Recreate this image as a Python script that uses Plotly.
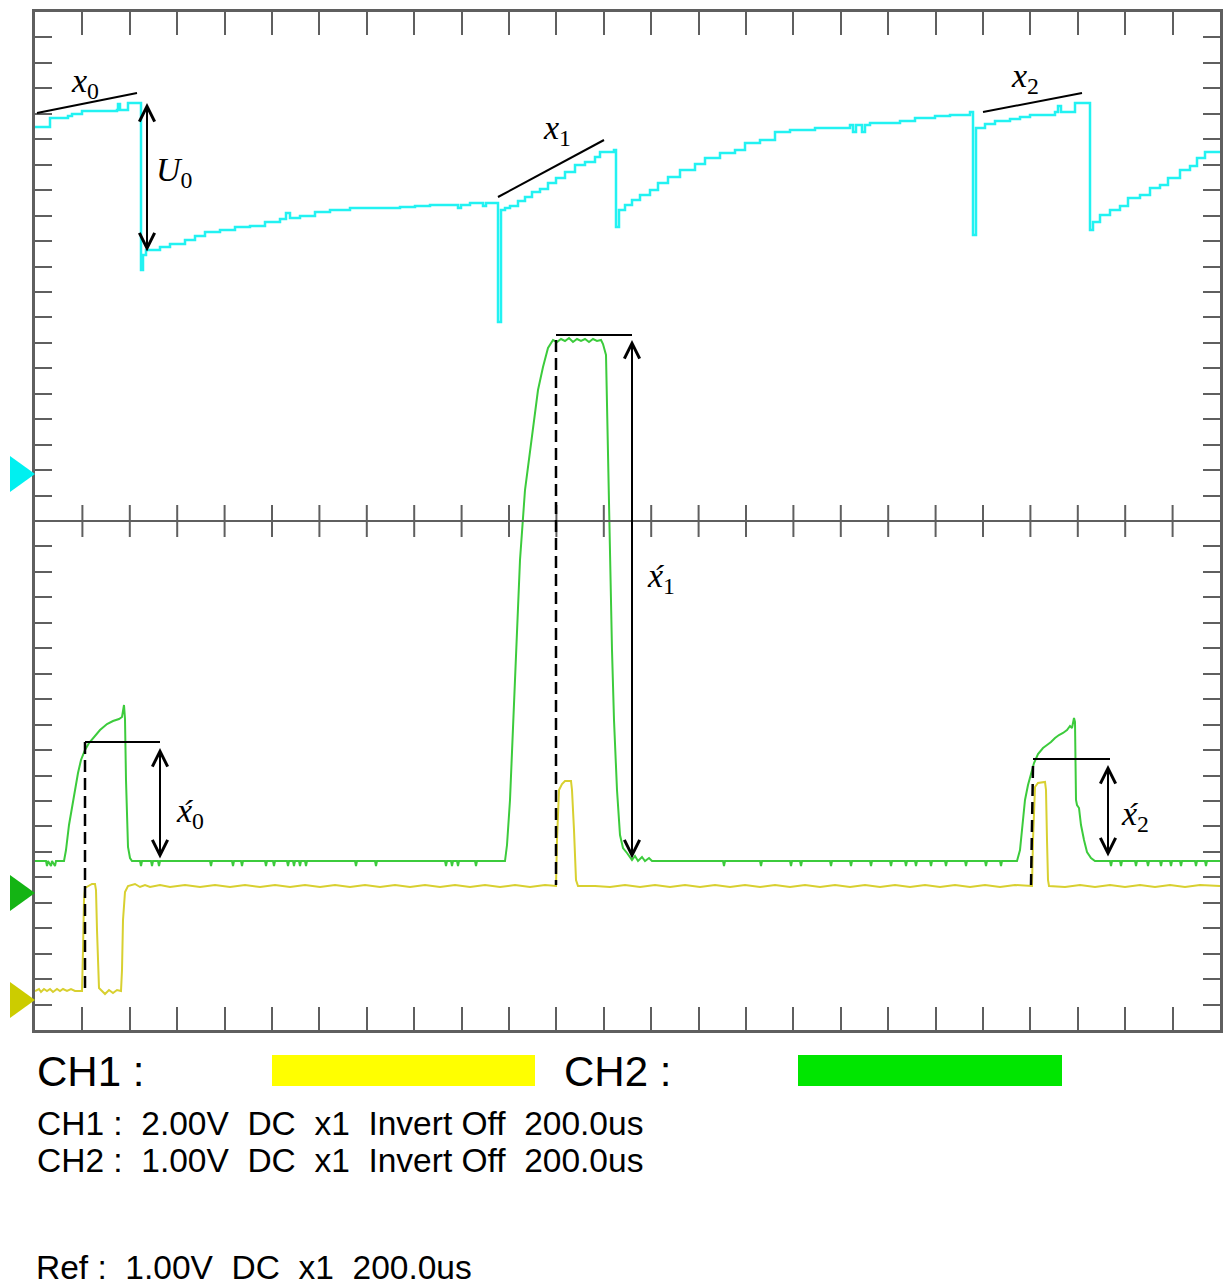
import plotly.graph_objects as go

# ---------------- data (x: sample index, 47.4 samples/div; y: level, 25.45 levels/minor div) ----
ref_t = [0, 15, 33, 37, 47, 82, 83, 85, 93, 105, 106, 108, 111, 125, 135, 150, 160, 170, 185, 200,
         215, 230, 245, 251, 255, 265, 280, 295, 315, 365, 380, 395, 420, 423, 426, 435, 445, 448,
         451, 460, 463, 466, 470, 475, 483, 490, 497, 505, 513, 521, 530, 540, 550, 560, 565, 579,
         581, 584, 590, 597, 605, 615, 623, 633, 645, 660, 670, 685, 700, 710, 725, 740, 755, 780,
         815, 818, 821, 827, 830, 835, 865, 880, 900, 915, 935, 938, 941, 950, 960, 975, 985, 995,
         1020, 1023, 1026, 1040, 1053, 1055, 1058, 1065, 1075, 1085, 1093, 1105, 1115, 1125, 1133,
         1145, 1155, 1162, 1170, 1185]
ref_v = [903, 912, 914, 916, 919, 920, 926, 920, 927, 927, 760, 775, 780, 783, 786, 790, 794, 798, 800, 803,
         804, 808, 811, 817, 812, 814, 818, 820, 822, 823, 824, 825, 825, 822, 825, 827, 827, 824,
         827, 827, 708, 820, 822, 824, 829, 833, 838, 841, 847, 852, 858, 865, 868, 873, 878, 880,
         803, 820, 825, 830, 835, 840, 847, 853, 860, 866, 872, 877, 880, 887, 890, 898, 900, 902,
         905, 898, 905, 898, 905, 907, 909, 912, 914, 915, 918, 795, 902, 906, 909, 911, 913, 915,
         918, 924, 918, 927, 927, 800, 808, 815, 820, 824, 832, 835, 842, 845, 852,
         860, 864, 872, 878, 878]

ch2_t = [0, 11, 12, 13, 16, 17, 20, 21,
         29, 31, 34, 37, 40, 43, 46, 50, 54, 58, 65, 72, 78, 84, 87, 89, 90, 91, 92, 93, 95, 97,
         105, 106, 107, 116, 117, 118, 123, 124, 125,
         175, 176, 177, 197, 198, 199, 206, 207, 208,
         230, 231, 232, 238, 239, 240, 252, 253, 254,
         258, 259, 260, 264, 265, 266, 270, 271, 272,
         320, 321, 322, 340, 341, 342,
         410, 411, 412, 416, 417, 418, 422, 423, 424, 440, 441, 442,
         470, 472, 475, 479, 485, 490, 495, 503, 508, 513, 518, 522, 526, 530, 534, 538, 542, 546,
         550, 554, 558, 562, 566, 568, 571, 573, 575, 577, 579, 582, 585, 588, 592, 595, 597, 600,
         603, 607, 610, 614, 617,
         688, 689, 690, 725, 726, 727, 755, 756, 757, 765, 766, 767,
         795, 796, 797, 815, 816, 817, 835, 836, 837, 855, 856, 857, 870, 871, 872,
         880, 881, 882, 895, 896, 897, 910, 911, 912, 930, 931, 932, 950, 951, 952, 965, 966, 967,
         982, 985, 988, 990, 993, 996, 999, 1003, 1008, 1012, 1016, 1020, 1024, 1028, 1032, 1035,
         1037, 1039, 1040, 1041, 1042, 1044, 1046, 1049, 1052, 1056, 1060,
         1075, 1076, 1077, 1085, 1086, 1087, 1100, 1101, 1102, 1112, 1113, 1114, 1125, 1126, 1127,
         1135, 1136, 1137, 1145, 1146, 1147, 1160, 1161, 1162, 1170, 1171, 1172, 1180, 1185]
ch2_v = [169, 169, 164, 169, 164, 169, 164, 169,
         169, 180, 205, 223, 240, 257, 270, 280, 287, 292, 300, 306, 309, 311, 313, 325, 311, 250, 200, 183, 172, 169,
         169, 164, 169, 169, 164, 169, 169, 164, 169,
         169, 164, 169, 169, 164, 169, 169, 164, 169,
         169, 164, 169, 169, 164, 169, 169, 164, 169,
         169, 164, 169, 169, 164, 169, 169, 164, 169,
         169, 164, 169, 169, 164, 169,
         169, 164, 169, 169, 164, 169, 169, 164, 169, 169, 164, 169,
         169, 185, 230, 330, 470, 540, 580, 640, 663, 682, 690, 688, 691, 689, 692, 688, 691, 689,
         691, 688, 691, 689, 690, 686, 675, 563, 470, 380, 310, 240, 195, 182, 177, 172, 170, 174,
         169, 173, 169, 172, 169,
         169, 164, 169, 169, 164, 169, 169, 164, 169, 169, 164, 169,
         169, 164, 169, 169, 164, 169, 169, 164, 169, 169, 164, 169, 169, 164, 169,
         169, 164, 169, 169, 164, 169, 169, 164, 169, 169, 164, 169, 169, 164, 169, 169, 164, 169,
         169, 180, 210, 230, 245, 257, 267, 276, 282, 285, 288, 292, 295, 297, 300, 304,
         302, 312, 308, 230, 225, 222, 205, 190, 178, 172, 169,
         169, 164, 169, 169, 164, 169, 169, 164, 169, 169, 164, 169, 169, 164, 169,
         169, 164, 169, 169, 164, 169, 169, 164, 169, 169, 164, 169, 169, 169]

ch1_t = [0, 4, 6, 9, 12, 15, 18, 22, 25, 28, 32, 36, 40, 47, 48, 49, 50, 53, 57, 60, 61, 62, 63, 64,
         67, 70, 74, 78, 82, 86, 87, 88, 90, 93, 100, 105, 110, 115, 125, 135, 150, 165, 180, 195,
         210, 225, 240, 255, 270, 285, 300, 315, 330, 345, 360, 375, 390, 405, 420, 435, 450, 465,
         480, 495, 510, 521, 522, 524, 527, 530, 536, 537, 539, 541, 543, 560, 575, 590, 605, 620,
         635, 650, 665, 680, 695, 710, 725, 740, 755, 770, 785, 800, 815, 830, 845, 860, 875, 890,
         905, 920, 935, 950, 965, 980, 997, 998, 1000, 1003, 1010, 1011, 1012, 1013, 1014, 1030,
         1045, 1060, 1075, 1090, 1105, 1120, 1135, 1150, 1165, 1185]
ch1_v = [39, 41, 38, 41, 39, 41, 38, 41, 39, 41, 39, 41, 39, 39, 80, 130, 142, 144, 146, 146, 140, 100, 60, 42,
         39, 36, 40, 37, 40, 39, 60, 110, 138, 144, 146, 143, 145, 143, 145, 143, 145, 143, 145, 143,
         145, 143, 145, 143, 145, 143, 145, 143, 145, 143, 145, 143, 145, 143, 145, 143, 145, 143,
         145, 143, 145, 144, 190, 240, 246, 249, 249, 240, 200, 150, 144, 144, 143, 145, 143, 145,
         143, 145, 143, 145, 143, 145, 143, 145, 143, 145, 143, 145, 143, 145, 143, 145, 143, 145,
         143, 145, 143, 145, 143, 145, 144, 190, 243, 247, 248, 240, 190, 150, 144, 143,
         145, 143, 145, 143, 145, 143, 145, 143, 145, 144]

# channel level markers (left side)
marker_levels = [556, 137, 30]
marker_colors = ["#00F0F0", "#14B414", "#CCCC00"]

# legend / settings text
legend_labels = ["CH1 :", "CH2 :"]
legend_colors = ["#FFFF00", "#00E600"]
info_lines = ["CH1 :  2.00V  DC  x1  Invert Off  200.0us",
              "CH2 :  1.00V  DC  x1  Invert Off  200.0us",
              "Ref :  1.00V  DC  x1  200.0us"]

# ---------------- figure ----------------
OFF = 8                       # page body margin
W, H = 1232 - OFF, 1287 - OFF
X_MAX, Y_MAX = 1185, 1018
XDIV, YDIV = X_MAX / 25, Y_MAX / 40
GRID = "#5f5f5f"


def px_x(p):
    return (p - OFF) / W


def px_y(p):
    return 1 - (p - OFF) / H


fig = go.Figure()
fig.add_trace(go.Scatter(x=ref_t, y=ref_v, mode="lines", line=dict(color="#22F2F2", width=2.5, shape="hv"),
                         hoverinfo="skip"))
fig.add_trace(go.Scatter(x=ch2_t, y=ch2_v, mode="lines", line=dict(color="#3CCB3C", width=2),
                         hoverinfo="skip"))
fig.add_trace(go.Scatter(x=ch1_t, y=ch1_v, mode="lines", line=dict(color="#D8D030", width=2),
                         hoverinfo="skip"))

shapes = []
# center horizontal line with crossing ticks
shapes.append(dict(type="line", xref="x", yref="y", x0=0, x1=X_MAX, y0=Y_MAX / 2, y1=Y_MAX / 2,
                   line=dict(color=GRID, width=2)))
for k in range(1, 25):
    shapes.append(dict(type="line", xref="x", yref="y", x0=k * XDIV, x1=k * XDIV,
                       y0=Y_MAX / 2 - 16, y1=Y_MAX / 2 + 16, line=dict(color=GRID, width=2)))

# channel level triangles on the left
for lvl, col in zip(marker_levels, marker_colors):
    shapes.append(dict(type="path", xref="paper", yref="y",
                       path=f"M {px_x(10)},{lvl + 18} L {px_x(35)},{lvl} L {px_x(10)},{lvl - 18} Z",
                       fillcolor=col, line=dict(width=0)))

BLK = dict(color="black", width=2)
# slope lines x0, x1, x2
shapes.append(dict(type="line", xref="x", yref="y", x0=2, y0=917, x1=102, y1=937, line=BLK))
shapes.append(dict(type="line", xref="x", yref="y", x0=463, y0=833, x1=569, y1=890, line=BLK))
shapes.append(dict(type="line", xref="x", yref="y", x0=948, y0=918, x1=1047, y1=937, line=BLK))
# horizontal reference lines on green pulses
shapes.append(dict(type="line", xref="x", yref="y", x0=50, y0=288, x1=125, y1=288, line=BLK))
shapes.append(dict(type="line", xref="x", yref="y", x0=521, y0=695, x1=597, y1=695, line=BLK))
shapes.append(dict(type="line", xref="x", yref="y", x0=998, y0=271, x1=1075, y1=271, line=BLK))
# dashed verticals
DSH = dict(color="black", width=2.5, dash="12px,6px")
shapes.append(dict(type="line", xref="x", yref="y", x0=50, y0=288, x1=50, y1=42, line=DSH))
shapes.append(dict(type="line", xref="x", yref="y", x0=521, y0=690, x1=521, y1=145, line=DSH))
shapes.append(dict(type="line", xref="x", yref="y", x0=998, y0=264, x1=996, y1=145, line=DSH))

# legend colour bars (paper coords)
shapes.append(dict(type="rect", xref="paper", yref="paper", x0=px_x(272), x1=px_x(535),
                   y0=px_y(1086), y1=px_y(1055), fillcolor=legend_colors[0], line=dict(width=0)))
shapes.append(dict(type="rect", xref="paper", yref="paper", x0=px_x(798), x1=px_x(1062),
                   y0=px_y(1086), y1=px_y(1055), fillcolor=legend_colors[1], line=dict(width=0)))

annotations = []


def darrow(x, y0, y1):
    annotations.append(dict(x=x, y=y1, ax=x, ay=y0, xref="x", yref="y", axref="x", ayref="y",
                            text="", showarrow=True, arrowside="end+start", arrowhead=5,
                            startarrowhead=5, arrowsize=1.5, startarrowsize=1.5, arrowwidth=2,
                            arrowcolor="black", standoff=0, startstandoff=0))


darrow(112, 777, 927)
darrow(125, 170, 282)
darrow(597, 170, 690)
darrow(1073, 172, 265)

MATH = dict(family="Liberation Serif, DejaVu Serif, serif", size=34, color="black")


def label(x, y, txt):
    annotations.append(dict(x=x, y=y, xref="x", yref="y", text=txt, showarrow=False, font=MATH,
                            xanchor="center", yanchor="middle"))


label(50, 947, "<i>x</i><sub>0</sub>")
label(522, 900, "<i>x</i><sub>1</sub>")
label(990, 952, "<i>x</i><sub>2</sub>")
label(139, 858, "<i>U</i><sub>0</sub>")
label(155, 217, "<i>x\u0301</i><sub>0</sub>")
label(626, 452, "<i>x\u0301</i><sub>1</sub>")
label(1100, 214, "<i>x\u0301</i><sub>2</sub>")

TXT_FONT = "Liberation Sans, Arial, sans-serif"
for lab, px in zip(legend_labels, [35, 562]):
    annotations.append(dict(x=px_x(px), y=px_y(1071), xref="paper", yref="paper", text=lab,
                            showarrow=False, xanchor="left", yanchor="middle",
                            font=dict(family=TXT_FONT, size=42, color="black")))
for line, py in zip(info_lines[:2], [1123, 1160]):
    annotations.append(dict(x=px_x(35), y=px_y(py), xref="paper", yref="paper",
                            text=line.replace(" ", "\u00a0"), showarrow=False, xanchor="left",
                            yanchor="middle", font=dict(family=TXT_FONT, size=33.5, color="black")))
annotations.append(dict(x=px_x(35), y=0, xref="paper", yref="paper",
                        text=info_lines[2].replace(" ", "\u00a0"), showarrow=False, xanchor="left",
                        yanchor="bottom", borderpad=0,
                        font=dict(family=TXT_FONT, size=33.5, color="black")))

fig.update_layout(
    width=W, height=H, margin=dict(l=0, r=0, t=0, b=0),
    paper_bgcolor="white", plot_bgcolor="white", showlegend=False,
    shapes=shapes, annotations=annotations,
    xaxis=dict(range=[0, X_MAX], domain=[px_x(35), px_x(1220)], showgrid=False, zeroline=False,
               showticklabels=False, ticks="inside", ticklen=23, tickwidth=2, tickcolor=GRID,
               tick0=0, dtick=XDIV, showline=True, linewidth=3, linecolor=GRID, mirror="ticks",
               fixedrange=True),
    yaxis=dict(range=[0, Y_MAX], domain=[px_y(1030), px_y(12)], showgrid=False, zeroline=False,
               showticklabels=False, ticks="inside", ticklen=17, tickwidth=2, tickcolor=GRID,
               tick0=0, dtick=YDIV, showline=True, linewidth=3, linecolor=GRID, mirror="ticks",
               fixedrange=True),
)

fig.write_html("out.html")
